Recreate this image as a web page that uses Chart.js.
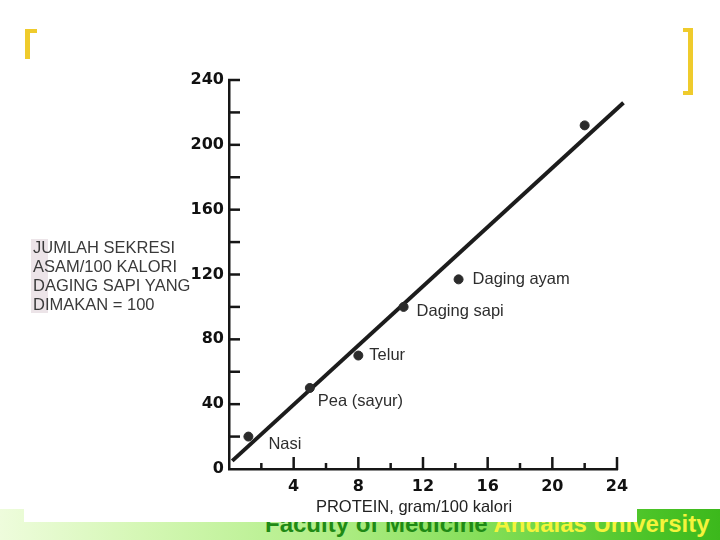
<!DOCTYPE html>
<html>
<head>
<meta charset="utf-8">
<script src="https://cdn.jsdelivr.net/npm/chart.js@4.4.1/dist/chart.umd.min.js"></script>
<style>
  html, body { margin: 0; padding: 0; background: #ffffff; }
  #wrap { position: relative; width: 720px; height: 540px; overflow: hidden; background: #ffffff; }
  #footer { position: absolute; left: 0; top: 509px; width: 720px; height: 31px;
    background: linear-gradient(to right, #eefcdc 0%, #d4f7b4 20%, #b2ee88 45%, #7edc52 70%, #4cc428 90%, #3cb81c 100%); }
  #footerText { position: absolute; left: 265px; top: -1px; width: 470px; height: 31px; white-space: nowrap;
    font-family: "Liberation Sans", Arial, sans-serif; font-weight: bold; font-size: 24px; line-height: 31px; }
  #footerText .a { color: #1f8a15; }
  #footerText .b { color: #f4f43c; }
  #sheet { position: absolute; left: 24px; top: 0; width: 613px; height: 522px; background: #ffffff; }
  .br { position: absolute; background: #efcb2c; }
  canvas { position: absolute; left: 0; top: 0; }
</style>
</head>
<body>
<div id="wrap">
  <div id="footer"><div id="footerText"><span class="a">Faculty of Medicine </span><span class="b">Andalas University</span></div></div>
  <div id="sheet"></div>
  <div class="br" style="left:25px; top:29px; width:5px; height:30px;"></div>
  <div class="br" style="left:25px; top:29px; width:12px; height:4px;"></div>
  <div class="br" style="left:688px; top:28px; width:5px; height:67px;"></div>
  <div class="br" style="left:683px; top:28px; width:10px; height:4px;"></div>
  <div class="br" style="left:683px; top:91px; width:10px; height:4px;"></div>
  <canvas id="c" width="720" height="540"></canvas>
</div>
<script>
// ---- data ----
const foodNames    = ['Nasi', 'Pea (sayur)', 'Telur', 'Daging sapi', 'Daging ayam', ''];
const proteinValues = [1.2, 5, 8, 10.8, 14.2, 22];          // gram / 100 kalori
const acidValues    = [20, 50, 70, 100, 117, 212];          // sekresi asam (daging sapi = 100)
const fitLineX      = [0.2, 24.4];
const fitLineY      = [5, 226];
const xTickLabels   = [4, 8, 12, 16, 20, 24];
const yTickLabels   = [0, 40, 80, 120, 160, 200, 240];
const xAxisTitle    = 'PROTEIN, gram/100 kalori';
const yAxisTitle    = ['JUMLAH SEKRESI', 'ASAM/100 KALORI', 'DAGING SAPI YANG', 'DIMAKAN = 100'];

const pointData = proteinValues.map((x, i) => ({ x: x, y: acidValues[i] }));
const lineData  = fitLineX.map((x, i) => ({ x: x, y: fitLineY[i] }));

const labelOffsets = [[20, 8], [8, 13], [11, 0], [13, 5], [14, 0], [0, 0]];

const inkPlugin = {
  id: 'ink',
  afterDraw(chart) {
    const ctx = chart.ctx;
    const xs = chart.scales.x, ys = chart.scales.y;
    const ax = xs.getPixelForValue(0);
    const ay = ys.getPixelForValue(0);
    ctx.save();
    ctx.strokeStyle = '#161616';
    ctx.lineWidth = 2.5;
    ctx.lineCap = 'butt';
    // y ticks pointing inward
    ys.ticks.forEach(t => {
      if (t.value === 0) return;
      const py = ys.getPixelForValue(t.value);
      ctx.beginPath(); ctx.moveTo(ax - 1, py); ctx.lineTo(ax + 11, py); ctx.stroke();
    });
    // x ticks pointing inward
    xs.ticks.forEach(t => {
      if (t.value === 0) return;
      const px = xs.getPixelForValue(t.value);
      const len = (t.value % 4 === 0) ? 12 : 6;
      ctx.beginPath(); ctx.moveTo(px, ay + 1); ctx.lineTo(px, ay - len); ctx.stroke();
    });
    // point labels
    ctx.fillStyle = '#2e2e2e';
    ctx.font = '16.5px "Liberation Sans", Arial, sans-serif';
    ctx.textAlign = 'left';
    ctx.textBaseline = 'middle';
    const meta = chart.getDatasetMeta(1);
    meta.data.forEach((el, i) => {
      if (!foodNames[i]) return;
      ctx.fillText(foodNames[i], el.x + labelOffsets[i][0], el.y + labelOffsets[i][1]);
    });
    // x axis title
    ctx.fillStyle = '#222222';
    ctx.font = '16.5px "Liberation Sans", Arial, sans-serif';
    ctx.textAlign = 'center';
    ctx.fillText(xAxisTitle, 414, 507);
    // y axis title (horizontal, left of axis)
    ctx.fillStyle = '#ece4e8';
    ctx.fillRect(31, 239, 17, 74);
    ctx.fillStyle = '#3a3a3a';
    ctx.textAlign = 'left';
    ctx.font = '16.5px "Liberation Sans", Arial, sans-serif';
    yAxisTitle.forEach((s, i) => ctx.fillText(s, 33, 248 + i * 19));
    ctx.restore();
  }
};

new Chart(document.getElementById('c'), {
  type: 'scatter',
  data: {
    datasets: [
      {
        type: 'line',
        data: lineData,
        borderColor: '#1c1c1c',
        borderWidth: 4,
        pointRadius: 0,
        clip: false,
        order: 2
      },
      {
        type: 'scatter',
        data: pointData,
        backgroundColor: '#2b2b2b',
        borderColor: '#2b2b2b',
        pointRadius: 4.5,
        order: 1
      }
    ]
  },
  options: {
    responsive: false,
    animation: false,
    devicePixelRatio: 1,
    layout: { padding: { left: 0, top: 80, right: 103, bottom: 0 } },
    plugins: { legend: { display: false }, tooltip: { enabled: false }, title: { display: false } },
    scales: {
      x: {
        type: 'linear', min: 0, max: 24, position: 'bottom',
        afterFit: s => { s.height = 71; },
        grid: { display: true, drawOnChartArea: false, drawTicks: false },
        border: { display: true, color: '#161616', width: 2.5 },
        ticks: {
          stepSize: 2, padding: 8, color: '#111111',
          font: { family: '"DejaVu Sans", sans-serif', weight: 'bold', size: 16 },
          callback: v => xTickLabels.includes(v) ? String(v) : ''
        }
      },
      y: {
        type: 'linear', min: 0, max: 240,
        afterFit: s => { s.width = 229; },
        grid: { display: true, drawOnChartArea: false, drawTicks: false },
        border: { display: true, color: '#161616', width: 2.5 },
        ticks: {
          stepSize: 20, padding: 5, color: '#111111',
          font: { family: '"DejaVu Sans", sans-serif', weight: 'bold', size: 16 },
          callback: v => yTickLabels.includes(v) ? String(v) : ''
        }
      }
    }
  },
  plugins: [inkPlugin]
});
</script>
</body>
</html>
